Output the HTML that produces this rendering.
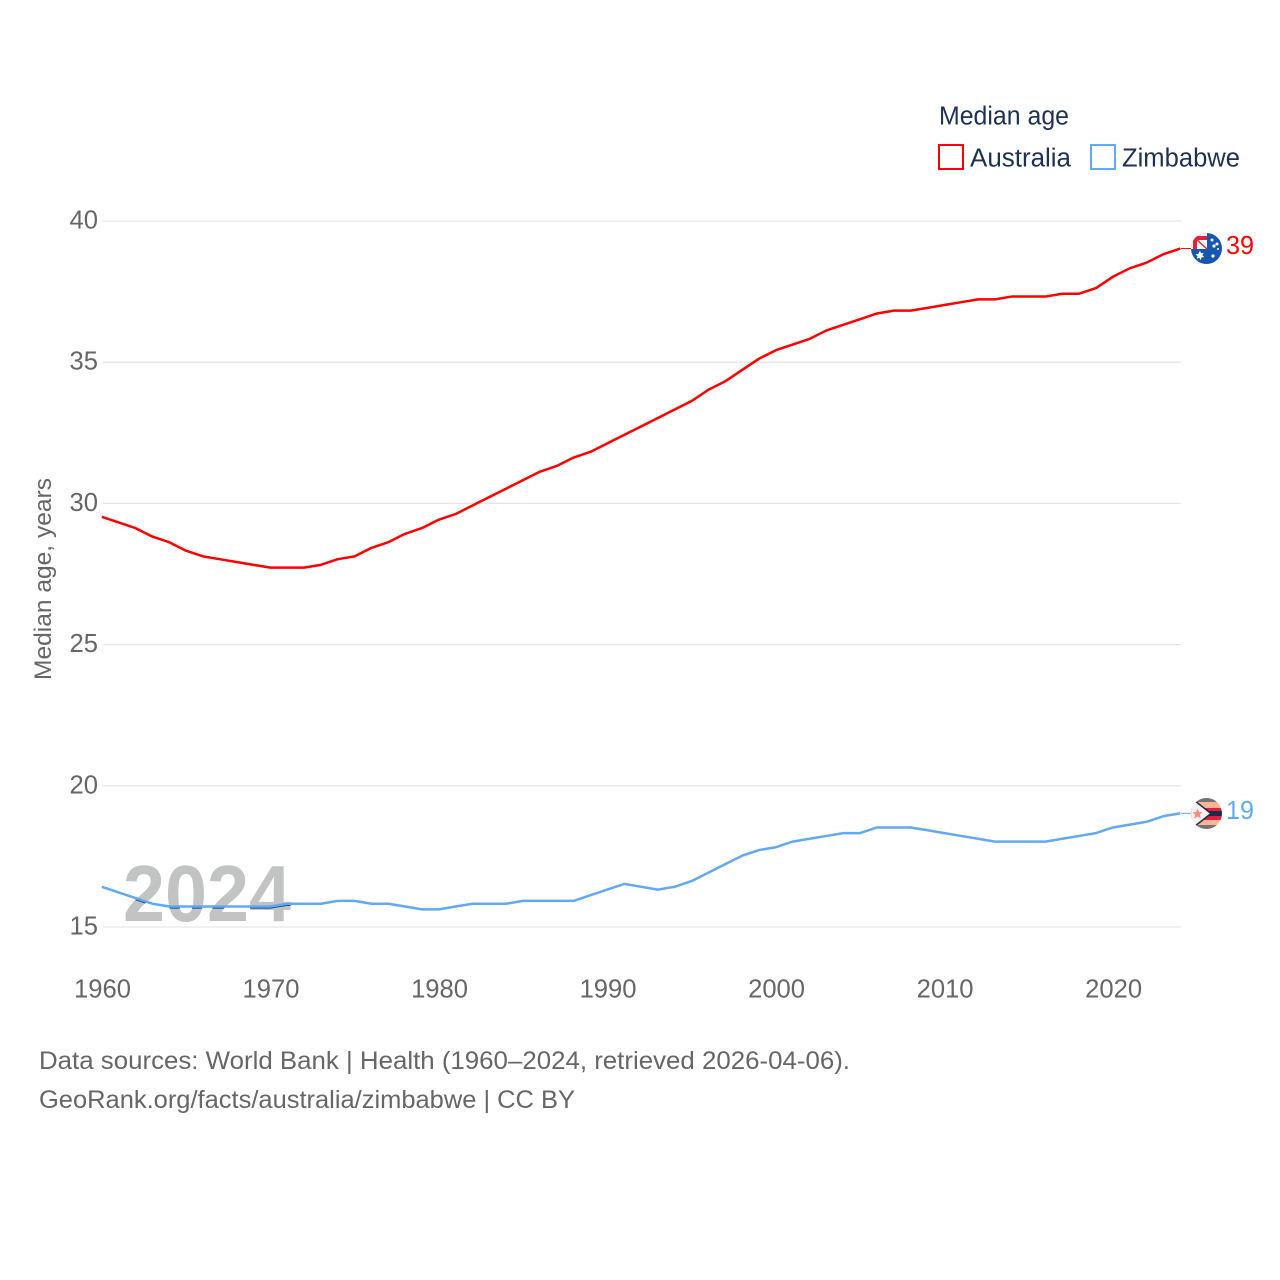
<!DOCTYPE html>
<html>
<head>
<meta charset="utf-8">
<title>Median age: Australia and Zimbabwe</title>
<style>
html,body{margin:0;padding:0;background:#fff;}
svg{display:block;}
text{font-family:"Liberation Sans",sans-serif;}
</style>
</head>
<body>
<svg id="chart" xmlns="http://www.w3.org/2000/svg" width="1280" height="1280" viewBox="0 0 1280 1280">
<rect width="1280" height="1280" fill="#fff"/>
<defs>
<clipPath id="clip-year"><text x="123" y="921" font-size="80" font-weight="700" textLength="168" lengthAdjust="spacingAndGlyphs">2024</text></clipPath>
<clipPath id="clip-au"><circle cx="1206.5" cy="248.5" r="15.5"/></clipPath>
<clipPath id="clip-zw"><circle cx="1206.5" cy="813.5" r="15.5"/></clipPath>
</defs>
<g id="grid"></g>
<g id="y-ticks"></g>
<g id="x-ticks"></g>
<text transform="translate(51,680) rotate(-90)" font-size="24.5" fill="#666" textLength="202" lengthAdjust="spacingAndGlyphs">Median age, years</text>
<text x="123" y="921" font-size="80" font-weight="700" fill="#c2c4c4" textLength="168" lengthAdjust="spacingAndGlyphs">2024</text>
<g clip-path="url(#clip-year)"><path id="line-overlap" fill="none" stroke="#12468f" stroke-width="2.5" transform="translate(-0.7,0.2)"/></g>
<path id="line-au" fill="none" stroke="#ff0000" stroke-width="2.5" stroke-linejoin="round" transform="translate(-0.7,-0.7)"/>
<path id="line-zw" fill="none" stroke="#63a9f2" stroke-width="2.5" stroke-linejoin="round" transform="translate(-0.7,-0.7)"/>
<path id="conn-au" fill="none" stroke="#ff0000" stroke-width="1" transform="translate(0,-0.7)"/>
<path id="conn-zw" fill="none" stroke="#63a9f2" stroke-width="1" transform="translate(0,-0.7)"/>

<g>
<g clip-path="url(#clip-au)">
<rect x="1190" y="232" width="34" height="34" fill="#1557b0"/>
<rect x="1190" y="232" width="17" height="17" fill="#f6f4f4"/>
<path d="M1193 249V240Q1193 236 1197 236H1207V240H1197V249Z" fill="#e0203c"/>
<path d="M1197 240L1207 249" stroke="#d0283c" stroke-width="1.4" fill="none"/>
<path d="M1200 250.500l1 2.700 2.800-.5-1.500 2.400 2 2-2.800.3-.7 2.800-1.500-2.400-2.600 1 .9-2.700-2.200-1.800 2.800-.4z" fill="#fff"/>
<circle cx="1214" cy="246" r="1.6" fill="#fff"/>
<circle cx="1217" cy="244" r="1.5" fill="#fff"/>
<circle cx="1212" cy="240" r="1.5" fill="#fff"/>
<circle cx="1213" cy="256" r="1.6" fill="#fff"/>
<circle cx="1218" cy="249" r="1" fill="#fff"/>
</g>
</g>
<g>
<g clip-path="url(#clip-zw)">
<rect x="1190" y="797" width="34" height="5" fill="#737373"/>
<rect x="1190" y="802" width="34" height="6" fill="#fdb594"/>
<rect x="1190" y="808" width="34" height="3" fill="#e0203c"/>
<rect x="1190" y="811" width="34" height="5" fill="#182c50"/>
<rect x="1190" y="816" width="34" height="4" fill="#e0203c"/>
<rect x="1190" y="820" width="34" height="5" fill="#fdb594"/>
<rect x="1190" y="825" width="34" height="5" fill="#737373"/>
<path d="M1190 797L1211 813.5L1190 830Z" fill="#f2f2f2" stroke="#182c50" stroke-width="1.5"/>
<path d="M1197.500 808.500l1.500 3.500 3.500 .4-2.600 2.400 .8 3.600-3.200-1.900-3.200 1.900 .8-3.600-2.600-2.400 3.500-.4z" fill="#f58f7c"/>
</g>
</g>
<text x="1226" y="254" font-size="25.500" fill="#ff0000" textLength="28" lengthAdjust="spacingAndGlyphs">39</text>
<text x="1226" y="819" font-size="25.500" fill="#63a9f2" textLength="28" lengthAdjust="spacingAndGlyphs">19</text>

<g>
<text x="939" y="124.500" font-size="25.500" fill="#1d3152" textLength="130" lengthAdjust="spacingAndGlyphs">Median age</text>
<g>
<rect x="939" y="145" width="24" height="24" fill="#fff" stroke="#ff0000" stroke-width="2"/>
<text x="970" y="166.500" font-size="25.500" fill="#1d3152" textLength="101" lengthAdjust="spacingAndGlyphs">Australia</text>
</g>
<g>
<rect x="1091" y="145" width="24" height="24" fill="#fff" stroke="#63a9f2" stroke-width="2"/>
<text x="1122" y="166.500" font-size="25.500" fill="#1d3152" textLength="118" lengthAdjust="spacingAndGlyphs">Zimbabwe</text>
</g>
</g>
<text x="39" y="1069" font-size="25" fill="#666" textLength="811" lengthAdjust="spacingAndGlyphs">Data sources: World Bank | Health (1960–2024, retrieved 2026-04-06).</text>
<text x="39" y="1108" font-size="25" fill="#666" textLength="536" lengthAdjust="spacingAndGlyphs">GeoRank.org/facts/australia/zimbabwe | CC BY</text>
</svg>
<script>
var years = [1960,1961,1962,1963,1964,1965,1966,1967,1968,1969,1970,1971,1972,1973,1974,1975,1976,1977,1978,1979,1980,1981,1982,1983,1984,1985,1986,1987,1988,1989,1990,1991,1992,1993,1994,1995,1996,1997,1998,1999,2000,2001,2002,2003,2004,2005,2006,2007,2008,2009,2010,2011,2012,2013,2014,2015,2016,2017,2018,2019,2020,2021,2022,2023,2024];
var australia = [29.5,29.3,29.1,28.8,28.6,28.3,28.1,28.0,27.9,27.8,27.7,27.7,27.7,27.8,28.0,28.1,28.4,28.6,28.9,29.1,29.4,29.6,29.9,30.2,30.5,30.8,31.1,31.3,31.6,31.8,32.1,32.4,32.7,33.0,33.3,33.6,34.0,34.3,34.7,35.1,35.4,35.6,35.8,36.1,36.3,36.5,36.7,36.8,36.8,36.9,37.0,37.1,37.2,37.2,37.3,37.3,37.3,37.4,37.4,37.6,38.0,38.3,38.5,38.8,39.0];
var zimbabwe = [16.4,16.2,16.0,15.8,15.7,15.7,15.7,15.7,15.7,15.7,15.7,15.8,15.8,15.8,15.9,15.9,15.8,15.8,15.7,15.6,15.6,15.7,15.8,15.8,15.8,15.9,15.9,15.9,15.9,16.1,16.3,16.5,16.4,16.3,16.4,16.6,16.9,17.2,17.5,17.7,17.8,18.0,18.1,18.2,18.3,18.3,18.5,18.5,18.5,18.4,18.3,18.2,18.1,18.0,18.0,18.0,18.0,18.1,18.2,18.3,18.5,18.6,18.7,18.9,19.0];
var yTickValues = [15,20,25,30,35,40];
var xTickValues = [1960,1970,1980,1990,2000,2010,2020];

var SVGNS = 'http://www.w3.org/2000/svg';
function xScale(year){ return 102.5 + (year - 1960) * (1181 - 102.5) / 64; }
function yScale(v){ return 927 - (v - 15) * (927 - 221) / 25; }
function linePath(vals){
  var d = '';
  for (var i = 0; i < vals.length; i++) {
    d += (i ? 'L' : 'M') + xScale(years[i]).toFixed(2) + ' ' + yScale(vals[i]).toFixed(2);
  }
  return d;
}
var gridG = document.getElementById('grid');
var yG = document.getElementById('y-ticks');
var xG = document.getElementById('x-ticks');
yTickValues.forEach(function(v){
  var l = document.createElementNS(SVGNS, 'line');
  
  
  l.setAttribute('x1', xScale(1960));
  l.setAttribute('x2', xScale(2024));
  l.setAttribute('y1', yScale(v));
  l.setAttribute('y2', yScale(v));
  l.setAttribute('stroke', '#e6e6e6');
  l.setAttribute('stroke-width', '1.3');
  gridG.appendChild(l);
  var t = document.createElementNS(SVGNS, 'text');
  
  
  t.setAttribute('x', 98);
  t.setAttribute('y', yScale(v) + 7.5);
  t.setAttribute('text-anchor', 'end');
  t.setAttribute('font-size', '25.6');
  t.setAttribute('fill', '#666');
  t.textContent = v;
  yG.appendChild(t);
});
xTickValues.forEach(function(v){
  var t = document.createElementNS(SVGNS, 'text');
  
  
  t.setAttribute('x', xScale(v));
  t.setAttribute('y', 997.5);
  t.setAttribute('text-anchor', 'middle');
  t.setAttribute('font-size', '25.6');
  t.setAttribute('fill', '#666');
  t.textContent = v;
  xG.appendChild(t);
});
document.getElementById('line-au').setAttribute('d', linePath(australia));
document.getElementById('line-zw').setAttribute('d', linePath(zimbabwe));
document.getElementById('line-overlap').setAttribute('d', linePath(zimbabwe));
var endX = xScale(years[years.length - 1]);
var auEnd = yScale(australia[australia.length - 1]);
var zwEnd = yScale(zimbabwe[zimbabwe.length - 1]);
document.getElementById('conn-au').setAttribute('d', 'M' + endX + ' ' + auEnd + 'H1191');
document.getElementById('conn-zw').setAttribute('d', 'M' + endX + ' ' + zwEnd + 'H1191');
</script>
</body>
</html>
